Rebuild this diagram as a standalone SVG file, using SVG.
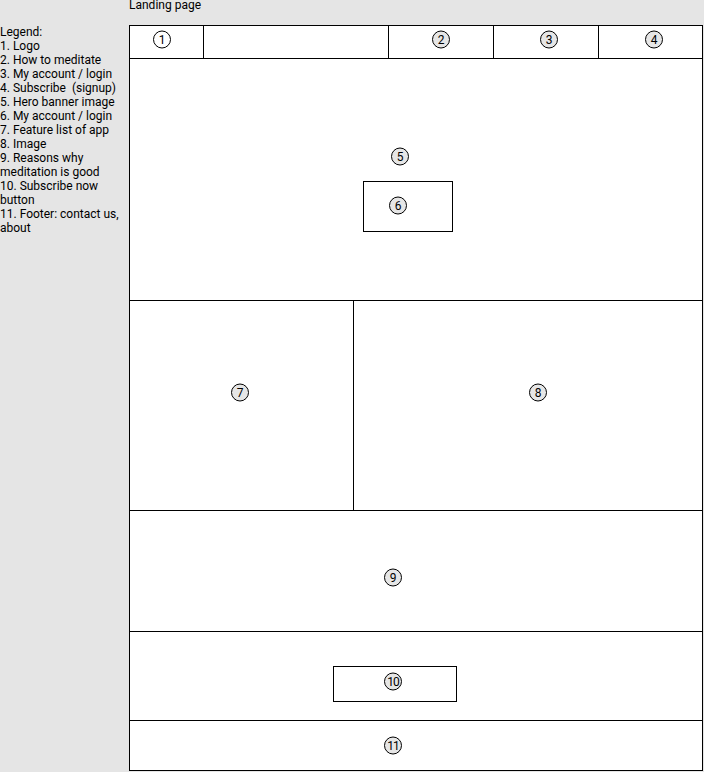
<svg xmlns="http://www.w3.org/2000/svg" width="704" height="772" viewBox="0 0 704 772">
<style>
.t{font-family:Roboto,"Liberation Sans",sans-serif;font-size:12px;fill:#000}
.box{fill:#fff;stroke:#000;stroke-width:1}
.ln{stroke:#000;stroke-width:1;fill:none}
.c{fill:#e6e6e6;stroke:#000;stroke-width:1}
.cw{fill:#fff;stroke:#000;stroke-width:1}
.n{font-family:Roboto,"Liberation Sans",sans-serif;font-size:12px;fill:#000;text-anchor:middle;dominant-baseline:central}
</style>
<rect width="704" height="772" fill="#e5e5e5"/>
<text class="t" x="129" y="9">Landing page</text>
<g id="legend">
<text class="t" x="0" y="36">Legend:</text>
<text class="t" x="0" y="50">1. Logo</text>
<text class="t" x="0" y="64">2. How to meditate</text>
<text class="t" x="0" y="78">3. My account / login</text>
<text class="t" x="0" y="92" xml:space="preserve">4. Subscribe  (signup)</text>
<text class="t" x="0" y="106">5. Hero banner image</text>
<text class="t" x="0" y="120">6. My account / login</text>
<text class="t" x="0" y="134">7. Feature list of app</text>
<text class="t" x="0" y="148">8. Image</text>
<text class="t" x="0" y="162">9. Reasons why</text>
<text class="t" x="0" y="176">meditation is good</text>
<text class="t" x="0" y="190">10. Subscribe now</text>
<text class="t" x="0" y="204">button</text>
<text class="t" x="0" y="218">11. Footer: contact us,</text>
<text class="t" x="0" y="232">about</text>
</g>
<g id="page">
<rect class="box" x="129.5" y="25.5" width="573" height="745"/>
</g>
<g id="header">
<line class="ln" x1="129.5" y1="58.5" x2="702.5" y2="58.5"/>
<line class="ln" x1="203.5" y1="25.5" x2="203.5" y2="58.5"/>
<line class="ln" x1="388.5" y1="25.5" x2="388.5" y2="58.5"/>
<line class="ln" x1="493.5" y1="25.5" x2="493.5" y2="58.5"/>
<line class="ln" x1="598.5" y1="25.5" x2="598.5" y2="58.5"/>
</g>
<g id="sections">
<line class="ln" x1="129.5" y1="300.5" x2="702.5" y2="300.5"/>
<line class="ln" x1="353.5" y1="300.5" x2="353.5" y2="510.5"/>
<line class="ln" x1="129.5" y1="510.5" x2="702.5" y2="510.5"/>
<line class="ln" x1="129.5" y1="631.5" x2="702.5" y2="631.5"/>
<line class="ln" x1="129.5" y1="720.5" x2="702.5" y2="720.5"/>
</g>
<g id="box6"><rect class="box" x="363.5" y="181.5" width="89" height="50"/></g>
<g id="box10"><rect class="box" x="333.5" y="666.5" width="123" height="35"/></g>
<g id="m1"><circle class="cw" cx="162" cy="39.5" r="8.5"/><text class="n" x="162" y="40">1</text></g>
<g id="m2"><circle class="c" cx="441" cy="39.5" r="8.5"/><text class="n" x="441" y="40">2</text></g>
<g id="m3"><circle class="c" cx="549" cy="39.5" r="8.5"/><text class="n" x="549" y="40">3</text></g>
<g id="m4"><circle class="c" cx="654" cy="39.5" r="8.5"/><text class="n" x="654" y="40">4</text></g>
<g id="m5"><circle class="c" cx="400" cy="156.5" r="8.5"/><text class="n" x="400" y="157">5</text></g>
<g id="m6"><circle class="c" cx="398" cy="205.5" r="8.5"/><text class="n" x="398" y="206">6</text></g>
<g id="m7"><circle class="c" cx="240" cy="392.5" r="8.5"/><text class="n" x="240" y="393">7</text></g>
<g id="m8"><circle class="c" cx="538" cy="392.5" r="8.5"/><text class="n" x="538" y="393">8</text></g>
<g id="m9"><circle class="c" cx="393" cy="577.5" r="8.5"/><text class="n" x="393" y="578">9</text></g>
<g id="m10"><circle class="c" cx="393" cy="681.5" r="8.5"/><text class="n" x="393" y="682" style="letter-spacing:-1px">10</text></g>
<g id="m11"><circle class="c" cx="393" cy="745.5" r="8.5"/><text class="n" x="393" y="746" style="letter-spacing:-1px">11</text></g>
</svg>
